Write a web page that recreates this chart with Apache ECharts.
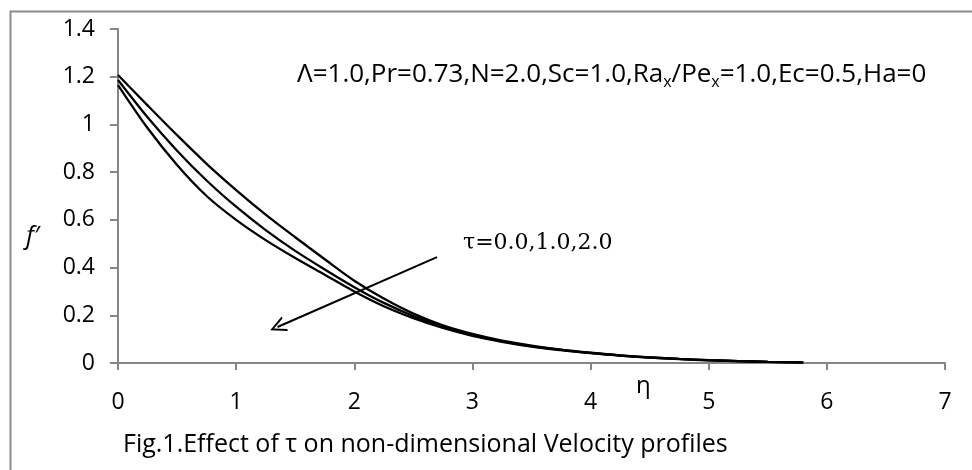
<!DOCTYPE html>
<html>
<head>
<meta charset="utf-8">
<script src="https://cdn.jsdelivr.net/npm/echarts@6/dist/echarts.min.js"></script>
<style>html,body{margin:0;padding:0;background:#fff;}#c{width:972px;height:470px;}</style>
</head>
<body>
<div id="c"></div>
<script>
// η values (x axis)
const eta = [0,0.25,0.5,0.75,1.0,1.25,1.5,1.75,2.0,2.25,2.5,2.75,3.0,3.25,3.5,3.75,4.0,4.25,4.5,4.75,5.0,5.25,5.5,5.75,5.8];
// f' for τ = 0.0 (upper curve)
const tau0 = [1.207,1.08,0.955,0.835,0.725,0.622,0.527,0.435,0.345,0.27,0.207,0.158,0.122,0.094,0.073,0.056,0.043,0.032,0.024,0.017,0.012,0.008,0.005,0.003,0.002];
// f' for τ = 1.0 (middle curve)
const tau1 = [1.186,1.03,0.89,0.765,0.655,0.557,0.47,0.392,0.318,0.252,0.197,0.152,0.117,0.091,0.071,0.055,0.042,0.031,0.023,0.017,0.012,0.008,0.005,0.003,0.002];
// f' for τ = 2.0 (lower curve)
const tau2 = [1.165,0.985,0.83,0.7,0.6,0.515,0.44,0.37,0.3,0.238,0.188,0.147,0.114,0.089,0.069,0.054,0.041,0.031,0.023,0.016,0.011,0.008,0.005,0.003,0.002];
// arrow annotation (data coords): start, end
const arrowStart = [2.70, 0.444];
const arrowEnd = [1.35, 0.151];

const pair = (xs, ys) => xs.map((x, i) => [x, ys[i]]);
const font = 'Open Sans';
const lineSeries = (name, ys) => ({
  name, type: 'line', data: pair(eta, ys), smooth: 0.3, showSymbol: false, symbol: 'none',
  lineStyle: { color: '#000', width: 2.3 }, silent: true, z: 3
});

const chart = echarts.init(document.getElementById('c'), null, { renderer: 'canvas' });
const s0 = lineSeries('τ=0.0', tau0);
s0.markLine = {
  silent: true,
  symbol: ['none', 'path://M5,0 L10,10 L8.6,10 L5,2.6 L1.4,10 L0,10 Z'],
  symbolSize: [16, 16],
  label: { show: false },
  lineStyle: { color: '#000', width: 2, type: 'solid' },
  data: [[{ coord: arrowStart }, { coord: arrowEnd }]]
};
chart.setOption({
  animation: false,
  backgroundColor: '#fff',
  grid: { left: 118, right: 27, top: 29, bottom: 107 },
  xAxis: {
    type: 'value', min: 0, max: 7, interval: 1,
    axisLine: { show: true, onZero: false, lineStyle: { color: '#868686', width: 2 } },
    axisTick: { show: true, length: 7, lineStyle: { color: '#868686', width: 2 } },
    splitLine: { show: false },
    axisLabel: { color: '#000', fontFamily: font, fontSize: 23, margin: 28 }
  },
  yAxis: {
    type: 'value', min: 0, max: 1.4, interval: 0.2,
    axisLine: { show: true, lineStyle: { color: '#868686', width: 2 } },
    axisTick: { show: true, length: 8, lineStyle: { color: '#868686', width: 2 } },
    splitLine: { show: false },
    axisLabel: { color: '#000', fontFamily: font, fontSize: 23, margin: 23 }
  },
  series: [s0, lineSeries('τ=1.0', tau1), lineSeries('τ=2.0', tau2)],
  graphic: [
    { type: 'rect', left: 8, top: 9, shape: { width: 1000, height: 500 }, style: { fill: 'none', stroke: '#8c8c8c', lineWidth: 2 }, silent: true, z: -1 },
    { type: 'text', left: 297, top: 62, style: {
        text: 'Λ=1.0,Pr=0.73,N=2.0,Sc=1.0,Ra{s|x}/Pe{s|x}=1.0,Ec=0.5,Ha=0',
        font: '26px "Open Sans"', fill: '#000',
        rich: { s: { fontSize: 16, fontFamily: font, padding: [14, 0, 0, 0] } }
      } },
    { type: 'text', left: 463, top: 232, style: { text: 'τ=0.0,1.0,2.0', font: '22px "DejaVu Serif"', fill: '#000' } },
    { type: 'text', left: 26, top: 224, style: { text: 'f′', font: 'italic 25px "Open Sans"', fill: '#000' } },
    { type: 'text', left: 636, top: 374, style: { text: 'η', font: '24px "Open Sans"', fill: '#000' } },
    { type: 'text', left: 123, top: 432, style: { text: 'Fig.1.Effect of τ on non-dimensional Velocity profiles', font: '25px "Open Sans"', fill: '#000' } }
  ]
});
</script>
</body>
</html>
